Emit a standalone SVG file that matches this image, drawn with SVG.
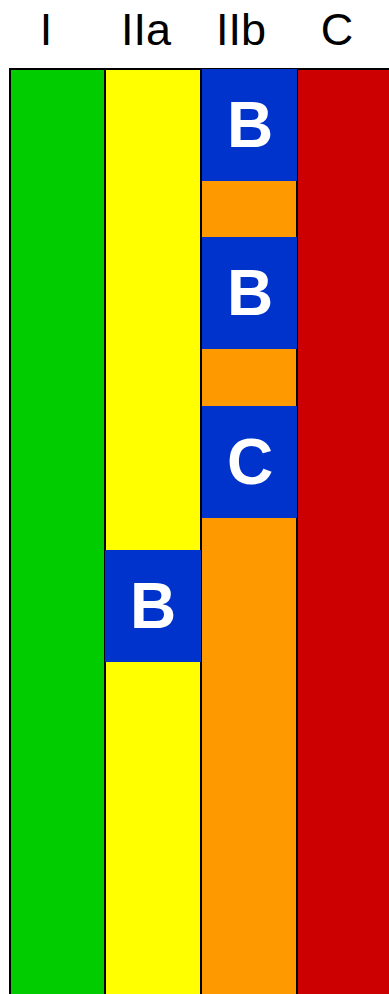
<svg xmlns="http://www.w3.org/2000/svg" width="389" height="994" viewBox="0 0 389 994">
<style>
.col{stroke:#000;stroke-width:2}
.blk{fill:#0033cc}
.hd{font-family:"Liberation Sans",Arial,sans-serif;font-size:45px;fill:#000;text-anchor:middle}
.lb{font-family:"Liberation Sans",Arial,sans-serif;font-size:64px;font-weight:bold;fill:#fff;text-anchor:middle}
</style>
<rect width="389" height="994" fill="#fff"/>
<g id="headers">
<text class="hd" x="46" y="45">I</text>
<text class="hd" x="146" y="45">IIa</text>
<text class="hd" x="241" y="45">IIb</text>
<text class="hd" x="337" y="45">C</text>
</g>
<g id="col-I"><rect class="col" x="10" y="69" width="95" height="930" fill="#00cc00"/></g>
<g id="col-IIa"><rect class="col" x="105" y="69" width="96" height="930" fill="#ffff00"/></g>
<g id="col-IIb"><rect class="col" x="201" y="69" width="96" height="930" fill="#ff9900"/></g>
<g id="col-C"><rect class="col" x="297" y="69" width="96" height="930" fill="#cc0000"/></g>
<g id="box-IIb-1"><rect class="blk" x="202" y="69" width="95" height="112"/><text class="lb" x="250" y="147">B</text></g>
<g id="box-IIb-2"><rect class="blk" x="202" y="237" width="95" height="112"/><text class="lb" x="250" y="315">B</text></g>
<g id="box-IIb-3"><rect class="blk" x="202" y="406" width="95" height="112"/><text class="lb" x="250" y="484">C</text></g>
<g id="box-IIa-1"><rect class="blk" x="105" y="550" width="96" height="112"/><text class="lb" x="153" y="628">B</text></g>
<g id="connectors"/>
</svg>
